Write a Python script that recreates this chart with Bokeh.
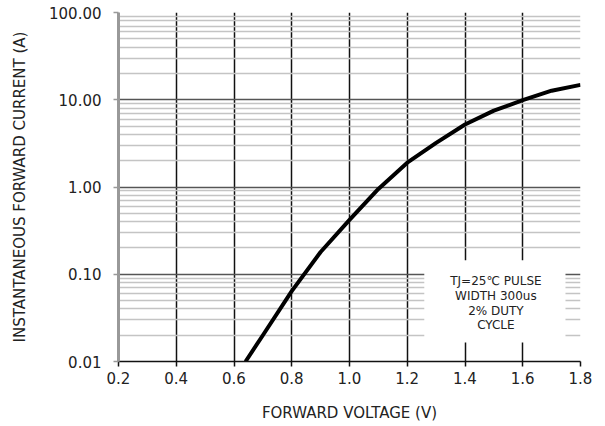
from bokeh.plotting import figure
from bokeh.models import FixedTicker, PrintfTickFormatter, BoxAnnotation, Label
from bokeh.embed import file_html
from bokeh.resources import INLINE

# Data
voltage = [0.64, 0.70, 0.80, 0.90, 1.00, 1.10, 1.20, 1.30, 1.40, 1.50, 1.60, 1.70, 1.80]
current = [0.010, 0.020, 0.064, 0.18, 0.42, 0.95, 1.9, 3.2, 5.2, 7.5, 9.9, 12.7, 14.8]

x_ticks = [0.2, 0.4, 0.6, 0.8, 1.0, 1.2, 1.4, 1.6, 1.8]
y_ticks = [0.01, 0.1, 1, 10, 100]
y_minor = [m * d for d in [0.01, 0.1, 1, 10] for m in range(2, 10)]

note_lines = ["TJ=25\u2103 PULSE", "WIDTH 300us", "2% DUTY", "CYCLE"]

FONT = "DejaVu Sans"
TXT = "#222222"

p = figure(width=600, height=424, x_range=(0.2, 1.8), y_range=(0.01, 100),
           y_axis_type="log", output_backend="svg", toolbar_location=None,
           min_border_left=118, min_border_right=20, min_border_top=12,
           min_border_bottom=63, outline_line_color=None,
           background_fill_color="white", border_fill_color="white")

p.xaxis.ticker = FixedTicker(ticks=x_ticks)
p.yaxis.ticker = FixedTicker(ticks=y_ticks, minor_ticks=y_minor)
p.xaxis.formatter = PrintfTickFormatter(format="%.1f")
p.yaxis.formatter = PrintfTickFormatter(format="%.2f")

# grids
p.xgrid.grid_line_color = "#111111"
p.xgrid.grid_line_width = 1.5
p.ygrid.grid_line_color = "#555555"
p.ygrid.grid_line_width = 1.5
p.ygrid.minor_grid_line_color = "#c4c4c4"
p.ygrid.minor_grid_line_width = 1.5

# axes
for ax in (p.xaxis, p.yaxis):
    ax.major_label_text_font = FONT
    ax.major_label_text_font_size = "15px"
    ax.major_label_text_color = TXT
    ax.axis_label_text_font = FONT
    ax.axis_label_text_font_size = "15px"
    ax.axis_label_text_font_style = "normal"
    ax.axis_label_text_color = TXT
    ax.minor_tick_line_color = None
    ax.major_tick_in = 0
    ax.major_tick_out = 5

p.xaxis.axis_label = "FORWARD VOLTAGE (V)"
p.yaxis.axis_label = "INSTANTANEOUS FORWARD CURRENT (A)"
p.xaxis.axis_line_color = "#111111"
p.xaxis.axis_line_width = 1.5
p.xaxis.major_tick_line_color = "#111111"
p.xaxis.major_tick_line_width = 1.5
p.xaxis.major_label_standoff = 5
p.xaxis.axis_label_standoff = 17
p.yaxis.axis_line_color = "#999999"
p.yaxis.axis_line_width = 3
p.yaxis.major_tick_line_color = "#999999"
p.yaxis.major_tick_line_width = 1.5
p.yaxis.major_label_standoff = 12
p.yaxis.axis_label_standoff = 17

# curve
p.line(voltage, current, line_color="black", line_width=4, line_join="round")

# note box
box = BoxAnnotation(left=1.259, right=1.748, bottom=0.0165, top=0.145,
                    fill_color="white", fill_alpha=1.0, line_color=None)
p.add_layout(box)
for i, t in enumerate(note_lines):
    p.add_layout(Label(x=1.507, y=0.145, y_offset=-21 - 14.7 * i, text=t,
                       text_align="center", text_baseline="middle",
                       text_font=FONT, text_font_size="12px", text_color=TXT))

open("out.html", "w").write(file_html(p, INLINE))
